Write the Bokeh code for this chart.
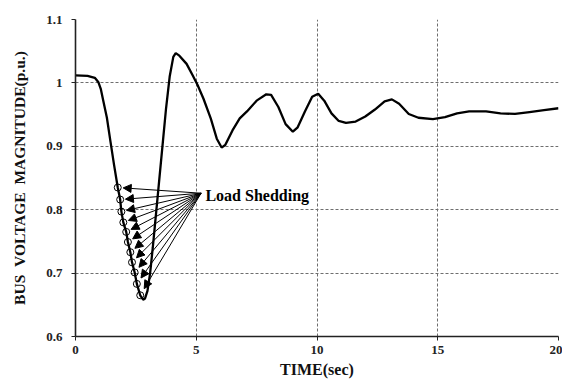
from bokeh.plotting import figure
from bokeh.models import ColumnDataSource, Arrow, NormalHead, FixedTicker
from bokeh.core.properties import value
from bokeh.embed import file_html
from bokeh.resources import INLINE

# ---- data ----
time_s = [0, 0.5, 0.8, 0.95, 1.05, 1.15, 1.3, 1.45, 1.6, 1.75, 1.85, 1.9, 1.98, 2.1,
          2.17, 2.27, 2.34, 2.45, 2.54, 2.68, 2.8, 2.88, 2.98, 3.09, 3.2, 3.3, 3.45,
          3.6, 3.75, 3.9, 4.05, 4.15, 4.3, 4.6, 4.85, 5.05, 5.3, 5.6, 5.85, 6.05, 6.2,
          6.5, 6.8, 7.1, 7.5, 7.9, 8.1, 8.4, 8.7, 9.0, 9.2, 9.5, 9.8, 10.05, 10.3,
          10.6, 10.9, 11.2, 11.6, 12.0, 12.4, 12.8, 13.1, 13.4, 13.8, 14.2, 14.8,
          15.3, 15.8, 16.3, 17.0, 17.6, 18.2, 18.8, 19.4, 20.0]
voltage = [1.012, 1.011, 1.008, 1.001, 0.99, 0.972, 0.945, 0.907, 0.87, 0.835, 0.816,
           0.797, 0.780, 0.765, 0.749, 0.733, 0.717, 0.701, 0.683, 0.665, 0.658, 0.660,
           0.672, 0.70, 0.74, 0.78, 0.84, 0.90, 0.96, 1.01, 1.041, 1.047, 1.043, 1.03,
           1.012, 0.997, 0.975, 0.944, 0.912, 0.898, 0.902, 0.925, 0.944, 0.955, 0.972,
           0.982, 0.981, 0.962, 0.935, 0.923, 0.93, 0.955, 0.978, 0.983, 0.972, 0.952,
           0.94, 0.937, 0.939, 0.947, 0.958, 0.971, 0.974, 0.967, 0.951, 0.945, 0.943,
           0.946, 0.952, 0.955, 0.955, 0.952, 0.951, 0.954, 0.957, 0.960]

shed_t = [1.75, 1.85, 1.9, 1.98, 2.1, 2.17, 2.27, 2.34, 2.45, 2.54, 2.68]
shed_v = [0.835, 0.816, 0.797, 0.780, 0.765, 0.749, 0.733, 0.717, 0.701, 0.683, 0.665]

label_t = 5.38
label_v = 0.822
label_text = "Load Shedding"
x_title = "TIME(sec)"
y_title = "BUS \u00a0VOLTAGE \u00a0MAGNITUDE(p.u.)"
x_ticks = [0, 5, 10, 15, 20]
y_ticks = [0.6, 0.7, 0.8, 0.9, 1.0, 1.1]
y_tick_labels = ["0.6", "0.7", "0.8", "0.9", "1", "1.1"]

FONT = "Liberation Serif"

p = figure(width=562, height=380, x_range=(0, 20), y_range=(0.6, 1.1),
           output_backend="svg", toolbar_location=None,
           min_border_left=75, min_border_right=4, min_border_top=19,
           min_border_bottom=44)
p.outline_line_color = None
p.background_fill_color = "white"

# grid
for g in (p.xgrid, p.ygrid):
    g.grid_line_color = "#6e6e6e"
    g.grid_line_dash = "3 2"
    g.grid_line_width = 1
p.xaxis.ticker = FixedTicker(ticks=x_ticks)
p.yaxis.ticker = FixedTicker(ticks=y_ticks)
p.yaxis.major_label_overrides = {t: l for t, l in zip(y_ticks, y_tick_labels)}

for ax in (p.xaxis, p.yaxis):
    ax.axis_line_color = "#222222"
    ax.axis_line_width = 1.6
    ax.major_tick_line_color = "#222222"
    ax.major_tick_out = 4
    ax.major_tick_in = 0
    ax.minor_tick_line_color = None
    ax.major_label_text_font = FONT
    ax.major_label_text_font_style = "bold"
    ax.major_label_text_font_size = "13px"
    ax.major_label_text_color = "#222222"
    ax.axis_label_text_font = FONT
    ax.axis_label_text_font_style = "bold"
    ax.axis_label_text_color = "#111111"

p.yaxis.major_label_standoff = 9
p.xaxis.major_label_standoff = 5
p.yaxis.axis_label = y_title
p.yaxis.axis_label_text_font_size = "15.5px"
p.yaxis.axis_label_standoff = 15
p.xaxis.axis_label = x_title
p.xaxis.axis_label_text_font_size = "16px"
p.xaxis.axis_label_standoff = 4

# curve
p.line(time_s, voltage, line_color="black", line_width=2.3)

# load shedding markers
p.scatter(shed_t, shed_v, marker="circle", size=7, fill_color=None,
          line_color="black", line_width=1)

# arrows from label to markers
frac = 0.065
x_end = [t + (label_t - 0.18 - t) * frac for t in shed_t]
y_end = [v + (label_v + 0.004 - v) * frac for v in shed_v]
src = ColumnDataSource(dict(xs=[label_t - 0.18] * len(shed_t),
                            ys=[label_v + 0.004] * len(shed_t),
                            xe=x_end, ye=y_end))
p.add_layout(Arrow(end=NormalHead(size=8, fill_color="black", line_color="black"),
                   x_start="xs", y_start="ys", x_end="xe", y_end="ye",
                   source=src, line_color="black", line_width=1))

p.text(x=[label_t], y=[label_v], text=[label_text], text_font=value(FONT),
       text_font_style="bold", text_font_size="16px", text_baseline="middle",
       text_align="left", text_color="black")

open("out.html", "w").write(file_html(p, INLINE))
